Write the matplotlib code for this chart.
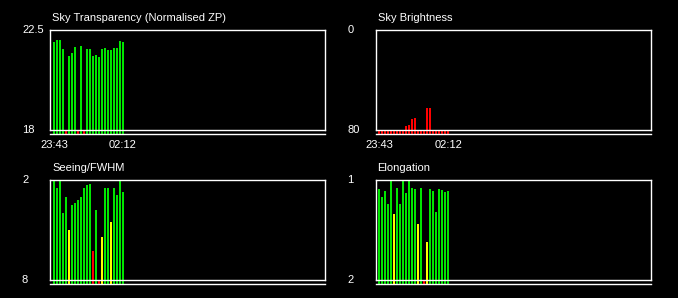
import numpy as np
import matplotlib
matplotlib.use("Agg")
from matplotlib import pyplot as plt

plt.rcParams["font.family"] = ["Liberation Sans", "DejaVu Sans"]

# one bar per exposure, 23:43 -> 02:12
time_labels = ["23:43", "02:12"]

transparency = [21.96, 22.05, 22.05, 21.65, 18.0, 21.33, 21.47, 21.74, 18.0, 21.78, 18.0, 21.65,
                21.65, 21.33, 21.38, 21.29, 21.65, 21.69, 21.60, 21.60, 21.69, 21.69, 22.00, 21.96]
brightness = [80, 80, 80, 80, 80, 80, 80, 80, 80, 76.8, 76.0, 71.2,
              70.4, 80, 80, 80, 62.4, 62.4, 80, 80, 80, 80, 80, 80]
seeing = [2.0, 2.48, 2.0, 3.98, 3.02, 5.0, 3.5, 3.38, 3.2, 3.02, 2.48, 2.3,
          2.24, 6.26, 3.8, 8.0, 5.42, 2.48, 2.48, 4.52, 2.48, 2.9, 2.0, 2.72]
elongation = [1.09, 1.17, 1.11, 1.24, 1.0, 1.34, 1.08, 1.24, 1.0, 1.13, 1.0, 1.08,
              1.09, 1.44, 1.08, 2.0, 1.62, 1.09, 1.11, 1.32, 1.09, 1.10, 1.12, 1.11]

GREEN, YELLOW, RED = "#00e600", "#ffff00", "#ff0000"


def status_high_good(v, red_below):
    return GREEN if v >= red_below else RED


def status_low_good(v, warn, bad):
    if v < warn:
        return GREEN
    if v < bad:
        return YELLOW
    return RED


W, H = 678, 298
fig = plt.figure(figsize=(W / 100, H / 100), dpi=100, facecolor="black")

# title, values, top label value, bottom label value, colours, box (left px, top px), show time axis
panels = [
    ("Sky Transparency (Normalised ZP)", transparency, 22.5, 18,
     [status_high_good(v, 18.5) for v in transparency], (50.3, 30), True),
    ("Sky Brightness", brightness, 0, 80,
     [status_low_good(v, -1, 0) for v in brightness], (375.7, 30), True),
    ("Seeing/FWHM", seeing, 2, 8,
     [status_low_good(v, 4.25, 6) for v in seeing], (50.3, 180), False),
    ("Elongation", elongation, 1, 2,
     [status_low_good(v, 1.33, 2) for v in elongation], (375.7, 180), False),
]

box_w, box_h = 275, 100

for title, vals, top, bot, colors, (left, ytop), show_time in panels:
    ax = fig.add_axes([left / W, 1 - (ytop + box_h) / H, box_w / W, box_h / H])
    ax.set_facecolor("black")
    for s in ax.spines.values():
        s.set_color("white")
        s.set_linewidth(1.0)
    ax.set_xlim(-1.2, -1.2 + box_w / 3)
    ax.set_ylim(bot, top)
    ax.set_xticks([])
    ax.set_yticks([])

    base = bot - 0.04 * (top - bot)
    x = np.arange(len(vals))
    ax.bar(x, np.array(vals, dtype=float) - base, bottom=base, width=0.67,
           color=colors, linewidth=0, antialiased=False, clip_on=False, zorder=1)
    ax.plot([0, 1], [base, base], transform=ax.get_yaxis_transform(),
            color="white", lw=1.0, clip_on=False, zorder=3)

    ax.text(0.007, 1.093, title, transform=ax.transAxes, ha="left", va="baseline",
            color="white", fontsize=8)
    for val in (top, bot):
        ax.text(-0.103, val, f"{val:g}", transform=ax.get_yaxis_transform(),
                ha="left", va="center", color="white", fontsize=8)
    if show_time:
        for xi, lab in zip((x[0], x[-1]), time_labels):
            ax.text(xi, -0.15, lab, transform=ax.get_xaxis_transform(),
                    ha="center", va="center", color="white", fontsize=8)

fig.savefig("out.png", dpi=100, facecolor="black")
plt.close(fig)
